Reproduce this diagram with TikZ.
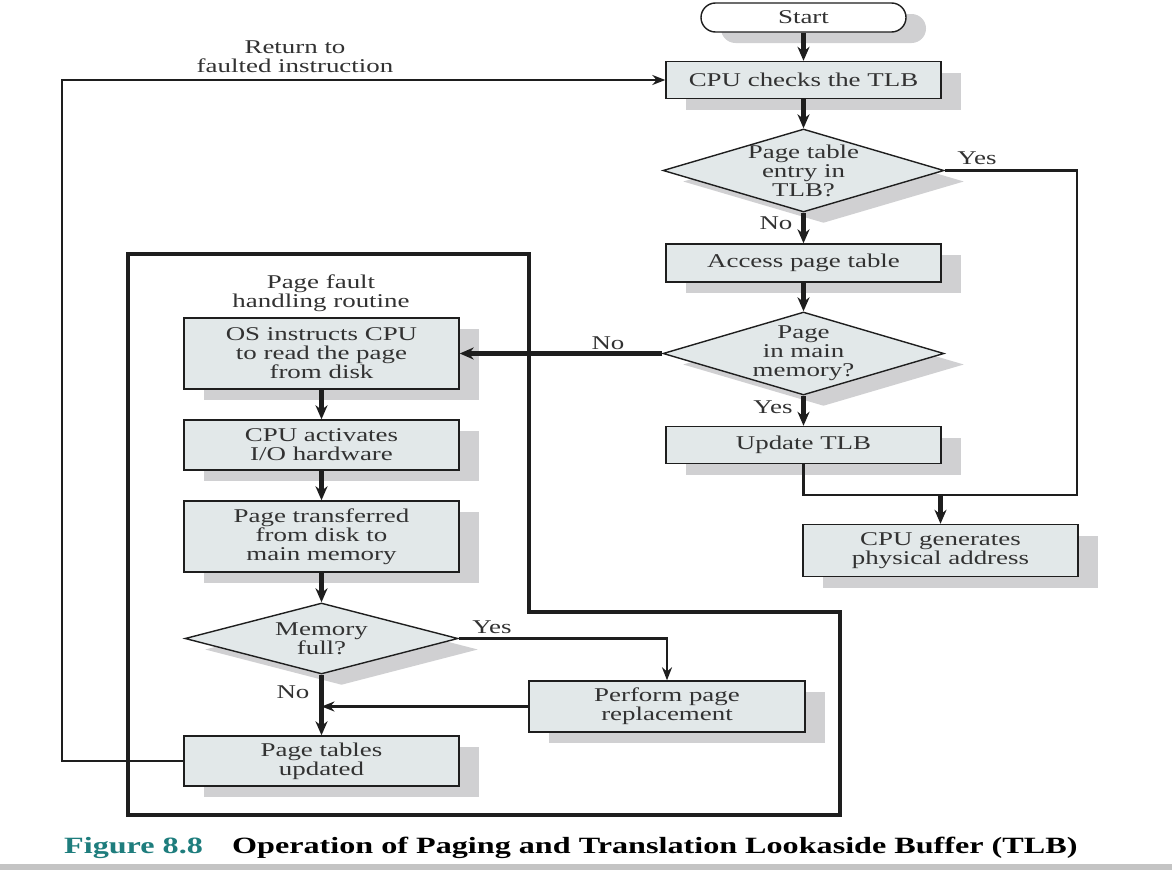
\documentclass[tikz,border=0pt]{standalone}
\usepackage{fontspec}
\setmainfont{Liberation Serif}[FakeStretch=1.38]
\usetikzlibrary{shapes.geometric,shapes.misc,shadows,arrows.meta}
\definecolor{boxfill}{RGB}{226,232,233}
\definecolor{shadowgray}{RGB}{208,208,210}
\definecolor{txtgray}{RGB}{50,50,50}
\definecolor{linecol}{RGB}{30,30,30}
\definecolor{figteal}{RGB}{30,125,125}
\definecolor{bargray}{RGB}{196,196,196}
\begin{document}
\begin{tikzpicture}[x=1pt,y=-1pt,
  font=\fontsize{19.5}{19}\selectfont, text=txtgray,
  shade/.style={drop shadow={shadow xshift=20pt,shadow yshift=-11pt,fill=shadowgray,opacity=1}},
  box/.style={rectangle, draw=linecol, line width=1.4pt, fill=boxfill, shade, align=center, inner sep=2pt, minimum width=275pt},
  decision/.style={diamond, draw=linecol, line width=1.4pt, fill=boxfill, shade, inner sep=0pt, minimum width=281pt, minimum height=83pt},
  pill/.style={rounded rectangle, draw=linecol, line width=1.4pt, fill=white, shade, inner sep=0pt, minimum width=205pt, minimum height=29pt},
  dtext/.style={align=center, text=txtgray, font=\fontsize{19.5}{19}\selectfont},
  flow/.style={draw=linecol, line width=4.6pt, -{Stealth[length=14pt,width=12pt]}},
  route/.style={draw=linecol, line width=2.9pt},
  routearrow/.style={route, -{Stealth[length=13pt,width=10pt]}},
  lbl/.style={text=txtgray, inner sep=0pt},
  frame/.style={draw=linecol, line width=3.2pt, line join=miter},
  captionfont/.style={font=\fontsize{23.3}{26}\selectfont\bfseries, inner sep=0pt}
]
\useasboundingbox (0,0) rectangle (1172,870);
\fill[white] (0,0) rectangle (1172,870);

% frame of the page fault handling routine
\draw[frame] (128,254) -- (529,254) -- (529,612) -- (840,612) -- (840,815) -- (128,815) -- cycle;

% right column
\node[pill] (start) at (803.5,17.5) {Start};
\node[box, minimum height=37pt] (tlb) at (803.5,80) {CPU checks the TLB};
\node[decision, label={[dtext]center:{Page table\\entry in\\TLB?}}] (d1) at (803.5,170.5) {};
\node[box, minimum height=38pt] (apt) at (803.5,263) {Access page table};
\node[decision, label={[dtext]center:{Page\\in main\\memory?}}] (d2) at (803.5,353.5) {};
\node[box, minimum height=37pt] (utlb) at (803.5,445) {Update TLB};
\node[box, minimum height=52pt] (cpg) at (940.5,550.5) {CPU generates\\physical address};

% left column
\node[lbl, align=center] (pfh) at (321,293) {Page fault\\handling routine};
\node[box, minimum height=71pt] (os) at (321.5,353.5) {OS instructs CPU\\to read the page\\from disk};
\node[box, minimum height=50pt] (act) at (321.5,445) {CPU activates\\I/O hardware};
\node[box, minimum height=71pt] (xfer) at (321.5,536.5) {Page transferred\\from disk to\\main memory};
\node[decision, minimum width=273pt, minimum height=71pt, label={[dtext]center:{Memory\\full?}}] (dmem) at (321.5,638.5) {};
\node[box, minimum height=50pt] (ptu) at (321.5,761) {Page tables\\updated};
\node[box, minimum height=51pt, minimum width=276pt] (ppr) at (667,706.5) {Perform page\\replacement};

\node[lbl, align=center] (ret) at (295,57) {Return to\\faulted instruction};

% connectors, right column
\draw[flow] (start.south) -- (tlb.north);
\draw[flow] (tlb.south) -- (d1.north);
\draw[flow] (d1.south) -- (apt.north);
\draw[flow] (apt.south) -- (d2.north);
\draw[flow] (d2.south) -- (utlb.north);
\coordinate (j) at (940.5,495);
\coordinate (rc) at (1077,300);
\draw[route, line join=miter] (d1.east) -| (rc) |- (j);
\draw[route, line join=miter] (utlb.south) |- (j);
\draw[flow] (j) -- (cpg.north);
\draw[flow] (d2.west) -- (os.east);

% connectors, left column
\draw[flow] (os.south) -- (act.north);
\draw[flow] (act.south) -- (xfer.north);
\draw[flow] (xfer.south) -- (dmem.north);
\draw[flow] (dmem.south) -- (ptu.north);
\draw[routearrow, line join=miter] (dmem.east) -| (ppr.north);
\coordinate (m) at (ptu.north |- ppr.west);
\draw[routearrow] (ppr.west) -- (m);
\coordinate (retc) at (62,400);
\draw[routearrow, line join=miter] (ptu.west) -| (retc) |- (tlb.west);

% branch labels
\node[lbl] (y1) at (977,158) {Yes};
\node[lbl] (n1) at (776,223) {No};
\node[lbl] (n2) at (608,343) {No};
\node[lbl] (y2) at (773,407) {Yes};
\node[lbl] (y3) at (492,627) {Yes};
\node[lbl] (n3) at (293,692) {No};

% caption
\node[captionfont, text=figteal, anchor=base west] (fig) at (64,853) {Figure 8.8};
\node[captionfont, text=black, anchor=base west] (cap) at (232,853) {Operation of Paging and Translation Lookaside Buffer (TLB)};
\fill[bargray] (0,864) rectangle (1172,870);
\end{tikzpicture}
\end{document}
